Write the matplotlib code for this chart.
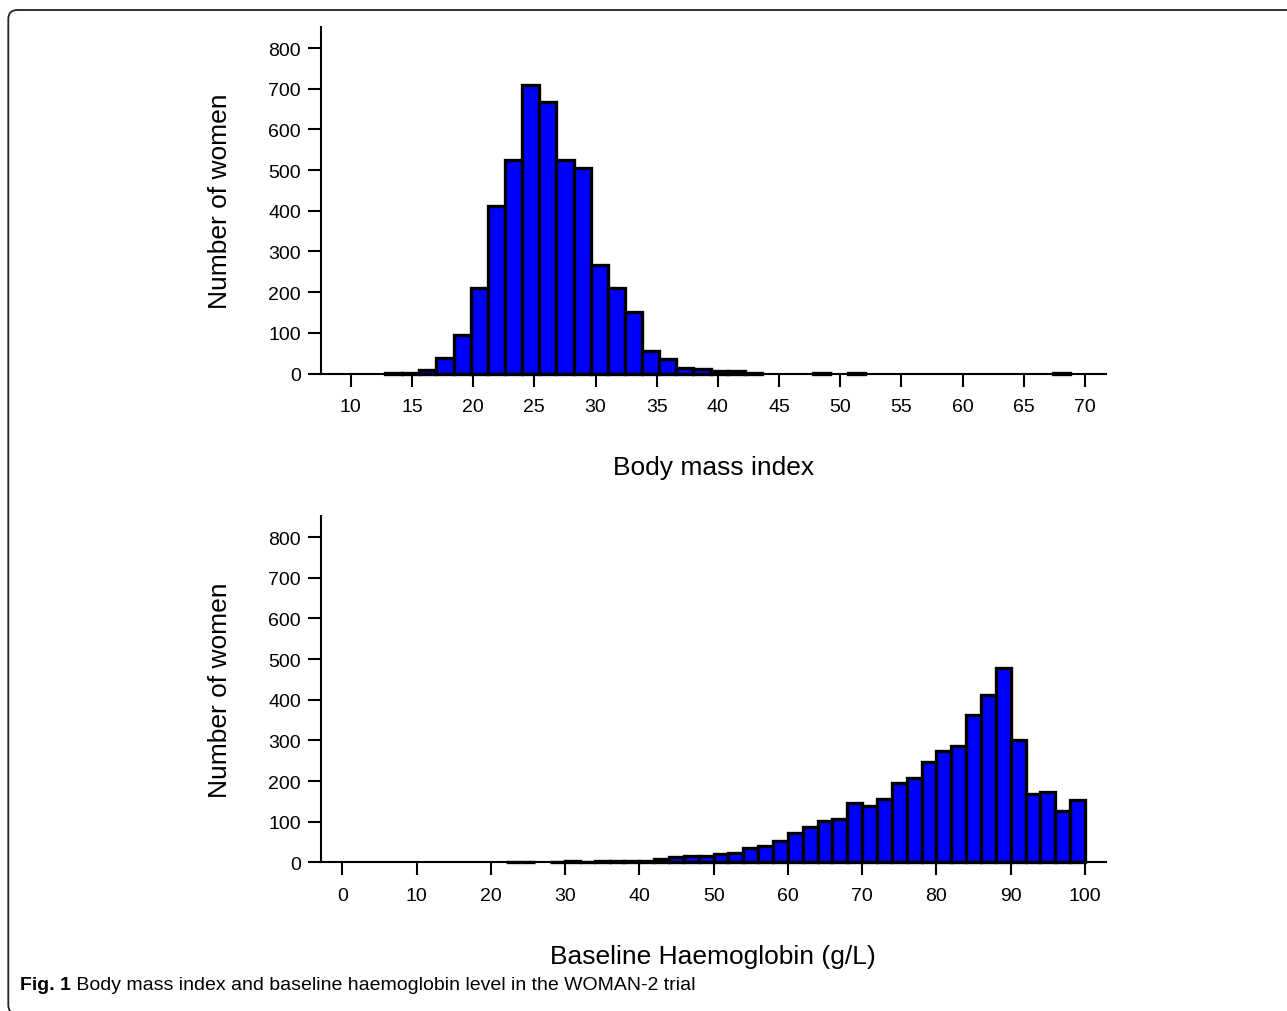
import numpy as np
import matplotlib
matplotlib.use("Agg")
import matplotlib.pyplot as plt
from matplotlib.patches import FancyBboxPatch
from matplotlib.transforms import IdentityTransform

plt.rcParams['font.family'] = ['Liberation Sans', 'DejaVu Sans']

# BMI histogram: 40 bins of width 1.4 starting at 12.8
bmi_start = 12.8
bmi_width = 1.4
bmi_counts = [2, 2, 8, 37, 94, 210, 412, 525, 710, 667,
              525, 505, 268, 211, 152, 55, 36, 14, 12, 6,
              7, 2, 0, 0, 0, 2, 0, 2, 0, 0,
              0, 0, 0, 0, 0, 0, 0, 0, 0, 2]
bmi_ticks = [10, 15, 20, 25, 30, 35, 40, 45, 50, 55, 60, 65, 70]

# Haemoglobin histogram: 50 bins of width 2 starting at 0
hb_start = 0
hb_width = 2
hb_counts = [0, 0, 0, 0, 0, 0, 0, 0, 0, 0,
             0, 2, 2, 0, 2, 4, 2, 3, 3, 3,
             4, 8, 13, 16, 15, 21, 23, 35, 40, 53,
             73, 87, 101, 106, 145, 139, 157, 196, 208, 248,
             273, 287, 362, 412, 478, 301, 167, 173, 126, 153]
hb_ticks = [0, 10, 20, 30, 40, 50, 60, 70, 80, 90, 100]

y_ticks = [0, 100, 200, 300, 400, 500, 600, 700, 800]

fig = plt.figure(figsize=(12.87, 10.12), dpi=100)
ax1 = fig.add_axes([0.2494, 0.6299, 0.6097, 0.3421])
ax2 = fig.add_axes([0.2494, 0.1469, 0.6097, 0.3419])


def draw_hist(ax, start, width, counts, xticks, xlim, xlabel):
    counts = np.array(counts)
    lefts = start + width * np.arange(len(counts))
    keep = counts > 0
    bars = ax.bar(lefts[keep], counts[keep], width=width, align='edge',
                  color='#0000ff', edgecolor='black', linewidth=2.4)
    for b in bars:
        b.set_clip_on(False)
    ax.set_xlim(xlim)
    ax.set_ylim(0, 851)
    ax.set_xticks(xticks)
    ax.set_yticks(y_ticks)
    for s in ['top', 'right']:
        ax.spines[s].set_visible(False)
    for s in ['left', 'bottom']:
        ax.spines[s].set_linewidth(1.5)
    ax.tick_params(axis='both', length=9.5, width=1.5, labelsize=14)
    ax.tick_params(axis='x', pad=8)
    ax.tick_params(axis='y', pad=5)
    ax.set_xlabel(xlabel, fontsize=19)
    ax.set_ylabel('Number of women', fontsize=19)
    ax.xaxis.set_label_coords(0.5, -0.236)
    ax.yaxis.set_label_coords(-0.113, 0.5)


draw_hist(ax1, bmi_start, bmi_width, bmi_counts, bmi_ticks, (7.56, 71.69),
          'Body mass index')
draw_hist(ax2, hb_start, hb_width, hb_counts, hb_ticks, (-2.87, 102.79),
          'Baseline Haemoglobin (g/L)')

# caption
t1 = fig.text(20 / 1287, 1 - 990.4 / 1012, 'Fig. 1', fontsize=14,
              fontweight='bold', va='baseline', ha='left')
plt.annotate(' Body mass index and baseline haemoglobin level in the WOMAN-2 trial',
             xy=(1, 0), xycoords=t1, va='bottom', ha='left', fontsize=14,
             annotation_clip=False)

# rounded frame around the figure
frame = FancyBboxPatch((8.3, -3), 1320, 1012 - 11 + 3,
                       boxstyle='round,pad=0,rounding_size=9',
                       transform=IdentityTransform(), fill=False,
                       edgecolor='#222222', linewidth=1.3, clip_on=False)
fig.add_artist(frame)

fig.savefig('out.png', dpi=100)
